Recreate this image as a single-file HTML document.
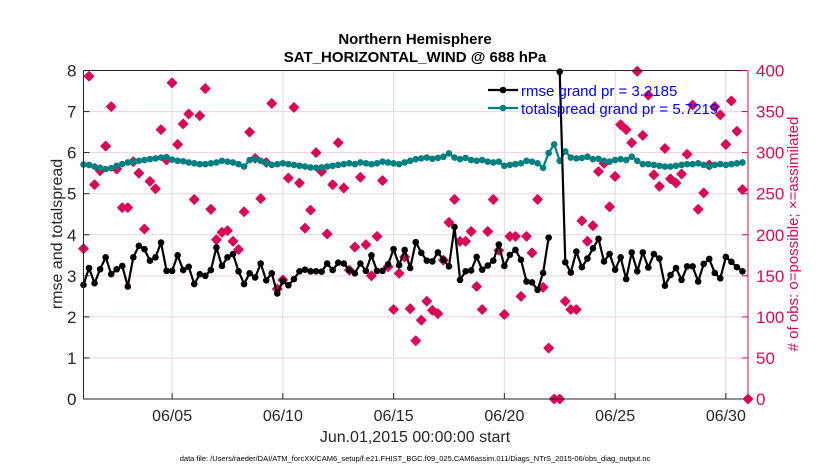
<!DOCTYPE html>
<html><head><meta charset="utf-8"><style>
body{margin:0;background:#fff;width:830px;height:470px;overflow:hidden}
svg text{font-family:"Liberation Sans",sans-serif}
</style></head><body>
<svg id="chart" width="830" height="470" xmlns="http://www.w3.org/2000/svg"></svg>
<script>
const rmse=[2.78,3.19,2.82,3.16,3.45,3.04,3.16,3.24,2.74,3.45,3.73,3.65,3.37,3.45,3.81,3.12,3.12,3.50,3.14,3.22,2.80,3.04,3.00,3.14,3.69,3.24,3.45,3.53,3.11,2.80,3.06,2.96,3.30,2.89,3.06,2.57,2.88,2.77,2.92,3.11,3.15,3.11,3.11,3.10,3.30,3.14,3.32,3.30,3.14,3.06,3.30,3.12,3.50,3.12,3.12,3.28,3.65,3.26,3.63,3.19,3.82,3.56,3.37,3.35,3.57,3.39,3.23,4.19,2.90,3.11,3.13,3.46,3.15,3.25,3.37,3.76,3.24,3.51,3.63,3.39,2.86,2.84,2.66,3.07,3.93,null,7.97,3.33,3.08,3.59,3.21,3.42,3.67,3.90,3.35,3.53,3.15,3.45,2.92,3.57,3.11,3.57,3.20,3.53,3.42,2.76,3.02,3.19,2.90,3.23,3.23,2.86,3.29,3.41,3.07,2.94,3.46,3.34,3.21,3.11];
const spread=[5.71,5.70,5.66,5.63,5.60,5.62,5.68,5.72,5.76,5.78,5.80,5.82,5.84,5.86,5.88,5.89,5.83,5.80,5.79,5.76,5.74,5.72,5.72,5.74,5.76,5.80,5.78,5.76,5.72,5.66,5.82,5.84,5.80,5.74,5.70,5.72,5.74,5.72,5.70,5.68,5.66,5.64,5.63,5.64,5.66,5.68,5.70,5.72,5.74,5.72,5.76,5.74,5.72,5.74,5.78,5.76,5.74,5.72,5.76,5.80,5.84,5.86,5.88,5.85,5.87,5.90,5.98,5.88,5.84,5.87,5.82,5.80,5.82,5.78,5.76,5.78,5.68,5.70,5.72,5.74,5.80,5.78,5.74,5.63,5.99,6.20,5.80,6.03,5.88,5.86,5.87,5.90,5.84,5.85,5.80,5.78,5.82,5.84,5.82,5.90,5.80,5.72,5.72,5.70,5.68,5.66,5.66,5.68,5.70,5.72,5.72,5.74,5.70,5.66,5.70,5.72,5.70,5.72,5.74,5.76];
const nobs=[183,393,261,278,308,356,280,233,233,289,275,207,265,256,328,291,385,310,335,347,243,345,378,231,194,203,205,192,182,228,325,293,244,288,360,134,145,269,355,263,208,230,300,277,201,261,312,257,157,185,270,188,150,198,266,161,109,153,173,110,71,96,119,108,104,169,215,243,192,192,204,137,109,204,243,181,103,198,198,125,198,178,243,136,62,0,0,119,109,109,217,192,211,277,287,234,271,334,328,312,399,321,370,273,259,305,268,263,274,298,358,231,251,285,356,346,310,363,326,255,0];
const xTickDays=[4,9,14,19,24,29];
const xTickLabels=["06/05","06/10","06/15","06/20","06/25","06/30"];
const yTicks=[0,1,2,3,4,5,6,7,8];
const y2Ticks=[0,50,100,150,200,250,300,350,400];

const L=83.5,R=748,T=70.5,B=399,NS="http://www.w3.org/2000/svg";
const xs=d=>L+(d/30)*(R-L);
const ys=v=>B-(v/8)*(B-T);
const ys2=v=>B-(v/400)*(B-T);
const svg=document.getElementById('chart');
function mk(tag,attrs,parent){const e=document.createElementNS(NS,tag);for(const k in attrs)e.setAttribute(k,attrs[k]);(parent||svg).appendChild(e);return e;}

// grid
yTicks.forEach(v=>{if(v>0&&v<8){const g=mk('line',{x1:L,x2:R,y1:ys(v),y2:ys(v),stroke:'#f2cfdc','stroke-width':1});

}});
xTickDays.forEach(d=>{const g=mk('line',{x1:xs(d),x2:xs(d),y1:T,y2:B,stroke:'#dcdcdc','stroke-width':1});

});

// red obs markers
nobs.forEach((v,i)=>{if(v==null)return;const x=xs(i*0.25),y=ys2(v);const g=mk('g',{});


mk('path',{d:`M${x-4.5},${y}L${x},${y-4.5}L${x+4.5},${y}L${x},${y+4.5}Z`,fill:'#d80a57',stroke:'#d80a57','stroke-width':1.5,'stroke-linejoin':'round'},g);});

// series
function series(arr,color,name,r){let d='',pen=false;arr.forEach((v,i)=>{if(v==null){pen=false;return;}d+=(pen?'L':'M')+xs(i*0.25).toFixed(1)+','+ys(v).toFixed(1);pen=true;});
const p=mk('path',{d:d,fill:'none',stroke:color,'stroke-width':2.2,'stroke-linejoin':'round'});


arr.forEach((v,i)=>{if(v==null)return;const c=mk('circle',{cx:xs(i*0.25),cy:ys(v),r:r,fill:color});

});}
series(spread,'#008080','totalspread',3.3);
series(rmse,'#000000','rmse',3.3);

// axes box
const ax=mk('path',{d:`M${L},${T}L${L},${B}L${R},${B}M${L},${T}L${R},${T}`,fill:'none',stroke:'#262626','stroke-width':1});


const ra=mk('line',{x1:R,x2:R,y1:T,y2:B,stroke:'#d80a57','stroke-width':1});



yTicks.forEach(v=>{mk('line',{x1:L,x2:L+6,y1:ys(v),y2:ys(v),stroke:'#262626'});
const t=mk('text',{x:L-7,y:ys(v)+6,'text-anchor':'end','font-size':17,fill:'#262626'});t.textContent=v;

});
y2Ticks.forEach(v=>{mk('line',{x1:R-6,x2:R,y1:ys2(v),y2:ys2(v),stroke:'#d80a57'});
const t=mk('text',{x:R+8,y:ys2(v)+6,'font-size':17,fill:'#d80a57'});t.textContent=v;

});
xTickDays.forEach((d,i)=>{mk('line',{x1:xs(d),x2:xs(d),y1:B-6,y2:B,stroke:'#262626'});
const t=mk('text',{x:xs(d),y:B+22,'text-anchor':'middle','font-size':16,fill:'#262626'});t.textContent=xTickLabels[i];

});
</script>
<svg style="position:absolute;left:0;top:0" width="830" height="470" xmlns="http://www.w3.org/2000/svg">
<text x="415" y="44" text-anchor="middle" font-size="15" font-weight="bold" fill="#000">Northern Hemisphere</text>
<text x="415" y="62" text-anchor="middle" font-size="15" font-weight="bold" fill="#000">SAT_HORIZONTAL_WIND @ 688 hPa</text>
<text transform="translate(62,234) rotate(-90)" text-anchor="middle" font-size="16" fill="#262626">rmse and totalspread</text>
<text transform="translate(798,234) rotate(-90)" text-anchor="middle" font-size="15" fill="#d80a57"># of obs: o=possible; ×=assimilated</text>
<text x="415" y="442" text-anchor="middle" font-size="16" fill="#262626">Jun.01,2015 00:00:00 start</text>
<text x="415" y="461" text-anchor="middle" font-size="7.5" fill="#000">data file: /Users/raeder/DAI/ATM_forcXX/CAM6_setup/f.e21.FHIST_BGC.f09_025.CAM6assim.011/Diags_NTrS_2015-06/obs_diag_output.nc</text>
<g>
<line x1="488" y1="90" x2="518" y2="90" stroke="#000" stroke-width="2.2"/><circle cx="503" cy="90" r="3.3" fill="#000"/>
<text x="521" y="96" font-size="15" fill="#0000ff">rmse grand pr = 3.2185</text>
<line x1="488" y1="108" x2="518" y2="108" stroke="#008080" stroke-width="2.2"/><circle cx="503" cy="108" r="3.3" fill="#008080"/>
<text x="521" y="114" font-size="15" fill="#0000ff">totalspread grand pr = 5.7219</text>
</g>
</svg>
</body></html>
